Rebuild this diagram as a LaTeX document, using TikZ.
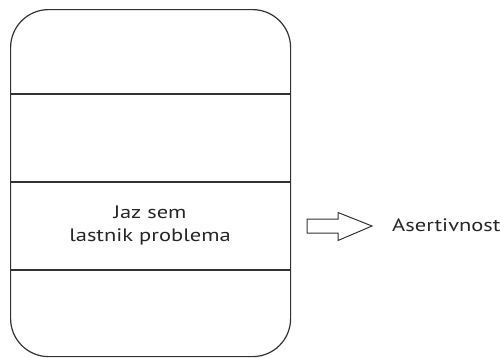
\documentclass[tikz,border=0pt]{standalone}
\usepackage{fontspec}
\setmainfont[FakeStretch=1.25]{PT Sans}
\begin{document}
\begin{tikzpicture}[x=1pt,y=-1pt,
  outline/.style={draw=black!80, line width=1.2pt},
  label/.style={font=\fontsize{18}{23}\selectfont, text=black!85, inner sep=0pt}]
  \useasboundingbox (0,0) rectangle (501,357);
  % the tall rounded panel
  \node[outline, rounded corners=38pt, minimum width=280pt, minimum height=347pt,
        inner sep=0pt, anchor=north west] (panel) at (10,9) {};
  % horizontal dividers splitting the panel into four cells
  \foreach \y/\n in {94/d1,182/d2,270/d3}{
    \coordinate (\n l) at (10,\y);
    \coordinate (\n r) at (290,\y);
    \draw[outline] (\n l) -- (\n r);
  }
  % text in the third cell
  \node[label, align=center] (txt) at (150,225) {Jaz sem\\lastnik problema};
  % outlined block arrow
  \draw[outline, line width=1pt, line join=miter]
    (307,219) -- (338,219) -- (338,212.5) -- (372,226) -- (338,240.5) -- (338,233) -- (307,233) -- cycle;
  \node[label, anchor=base west] (res) at (392,231) {Asertivnost};
\end{tikzpicture}
\end{document}
